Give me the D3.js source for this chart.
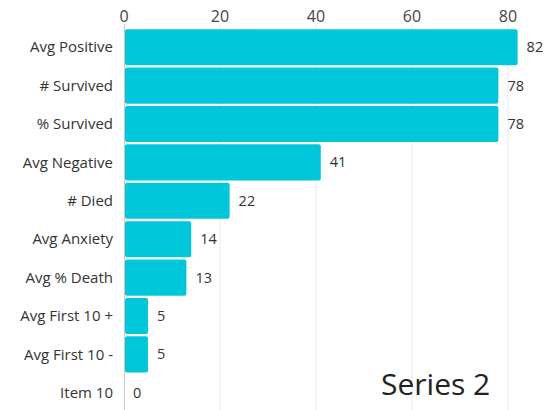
<!DOCTYPE html>
<html>
<head>
<meta charset="utf-8">
<script src="https://cdn.jsdelivr.net/npm/d3@7"></script>
<style>
  body { margin: 0; background: #fff; }
  text { font-family: "Open Sans", "Noto Sans", sans-serif; }
</style>
</head>
<body>
<svg id="chart" width="545" height="410"></svg>
<script>
const CATEGORIES = ["Avg Positive", "# Survived", "% Survived", "Avg Negative", "# Died",
  "Avg Anxiety", "Avg % Death", "Avg First 10 +", "Avg First 10 -", "Item 10"];
const VALUES = [82, 78, 78, 41, 22, 14, 13, 5, 5, 0];
const TICKS = [0, 20, 40, 60, 80];
const SERIES_NAME = "Series 2";

const SVG = d3.select("#chart");
const WIDTH = 545;
const HEIGHT = 410;
const MARGIN = { top: 28, bottom: -2, left: 124, right: 37 };

const SCALE_X = d3.scaleLinear()
  .domain([0, 80])
  .range([MARGIN.left, MARGIN.left + 384]);

const SCALE_Y = d3.scaleBand()
  .domain(CATEGORIES)
  .range([MARGIN.top, HEIGHT - MARGIN.bottom])
  .paddingInner(0.06)
  .paddingOuter(0.03);

// gridlines
SVG.selectAll("line.grid")
  .data(TICKS.filter(d => d > 0))
  .enter()
  .append("line")
  .attr("class", "grid")
  .attr("x1", d => SCALE_X(d))
  .attr("x2", d => SCALE_X(d))
  .attr("y1", 24)
  .attr("y2", HEIGHT)
  .attr("stroke", "#ececec")
  .attr("stroke-width", 1);

// baseline
SVG.append("line")
  .attr("x1", SCALE_X(0) + 0.5)
  .attr("x2", SCALE_X(0) + 0.5)
  .attr("y1", 24)
  .attr("y2", HEIGHT)
  .attr("stroke", "#c8c8c8");

// top tick labels
SVG.selectAll("text.tick-label")
  .data(TICKS)
  .enter()
  .append("text")
  .attr("class", "tick-label")
  .attr("x", d => SCALE_X(d))
  .attr("y", 22)
  .attr("text-anchor", "middle")
  .attr("font-size", 16)
  .attr("fill", "#444")
  .text(d => d);

// bars
SVG.selectAll("rect.bar")
  .data(VALUES)
  .enter()
  .append("rect")
  .attr("class", "bar")
  .attr("x", SCALE_X(0) + 1)
  .attr("y", (d, i) => SCALE_Y(CATEGORIES[i]))
  .attr("width", d => Math.max(0, SCALE_X(d) - SCALE_X(0) - 1))
  .attr("height", SCALE_Y.bandwidth())
  .attr("rx", 2)
  .attr("fill", "#00c8da");

// category labels
SVG.selectAll("text.cat-label")
  .data(CATEGORIES)
  .enter()
  .append("text")
  .attr("class", "cat-label")
  .attr("x", MARGIN.left - 11)
  .attr("y", d => SCALE_Y(d) + SCALE_Y.bandwidth() / 2)
  .attr("dy", "0.35em")
  .attr("text-anchor", "end")
  .attr("font-size", 15)
  .attr("fill", "#333")
  .text(d => d);

// value labels
SVG.selectAll("text.val-label")
  .data(VALUES)
  .enter()
  .append("text")
  .attr("class", "val-label")
  .attr("x", d => SCALE_X(d) + 9)
  .attr("y", (d, i) => SCALE_Y(CATEGORIES[i]) + SCALE_Y.bandwidth() / 2)
  .attr("dy", "0.35em")
  .attr("font-size", 14.5)
  .attr("fill", "#333")
  .text(d => d);

// series label
SVG.append("text")
  .attr("x", 381)
  .attr("y", 395)
  .attr("font-size", 30)
  .attr("fill", "#222")
  .text(SERIES_NAME);
</script>
</body>
</html>
